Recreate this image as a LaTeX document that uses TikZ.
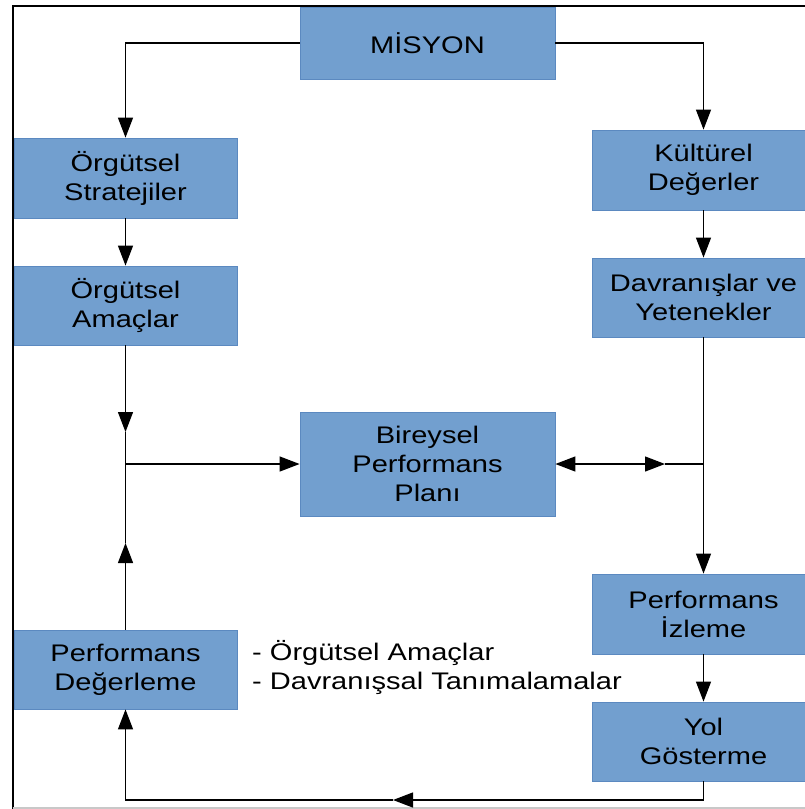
\documentclass[tikz,border=0pt]{standalone}
\usepackage{fontspec}
\setmainfont{Liberation Sans}[FakeStretch=1.21]
\usetikzlibrary{arrows.meta}
\definecolor{boxfill}{HTML}{729FCF}
\definecolor{boxline}{HTML}{5B89C0}
\definecolor{framegray}{HTML}{C8C8C8}
\begin{document}
\begin{tikzpicture}[x=1pt,y=-1pt,
  box/.style={draw=boxline, line width=0.8pt, fill=boxfill, inner sep=0pt,
    align=center, font=\fontsize{24}{29}\selectfont, text=black},
  lw/.style={minimum width=223pt, minimum height=80pt},
  cw/.style={minimum width=255pt},
  conn/.style={line width=1.3pt, draw=black},
  arr/.style={conn, -{Triangle[length=20pt,width=15pt]}},
  note/.style={font=\fontsize{24}{29}\selectfont, align=left, inner sep=0pt}
]
\useasboundingbox (0,0) rectangle (805,809);
\clip (0,0) rectangle (805,809);
% frame
\draw[line width=2pt, black] (12.5,809) -- (12.5,6) -- (810,6);
\draw[line width=1.2pt, framegray] (12.5,808) -- (810,808);
% boxes
\node[box, cw, minimum height=72pt] (mis) at (427.5,43) {MİSYON};
\node[box, lw] (strat) at (125.5,178) {Örgütsel\\Stratejiler};
\node[box, lw, minimum height=79pt] (amac) at (125.5,305.5) {Örgütsel\\Amaçlar};
\node[box, lw] (kult) at (703.5,170) {Kültürel\\Değerler};
\node[box, lw, minimum height=79pt] (dav) at (703.5,297.5) {Davranışlar ve\\Yetenekler};
\node[box, cw, minimum height=104pt] (bir) at (427.5,464) {Bireysel\\Performans\\Planı};
\node[box, lw] (izl) at (703.5,614) {Performans\\İzleme};
\node[box, lw, minimum height=79pt] (yol) at (703.5,741.5) {Yol\\Gösterme};
\node[box, lw, minimum height=79pt] (deg) at (125.5,669.5) {Performans\\Değerleme};
\node[note, anchor=west] (txt) at (252,667) {- Örgütsel Amaçlar\\- Davranışsal Tanımalamalar};
% coordinates
\coordinate (ja) at (125.5,432);
\coordinate (jl) at (125.5,464);
\coordinate (jb) at (125.5,543);
\coordinate (jr) at (703.5,464);
\coordinate (mr) at (665,464);
\coordinate (b2) at (393,800);
% connectors
\draw[arr] (mis.west) -| (strat.north);
\draw[arr] (mis.east) -| (kult.north);
\draw[arr] (strat) -- (amac);
\draw[arr] (kult) -- (dav);
\draw[arr] (amac.south) -- (ja);
\draw[conn] (ja) -- (jb);
\draw[arr] (deg.north) -- (jb);
\draw[arr] (jl) -- (bir.west);
\draw[arr] (dav.south) -- (izl.north);
\draw[conn, {Triangle[length=20pt,width=15pt]}-{Triangle[length=20pt,width=15pt]}] (bir.east) -- (mr);
\draw[conn] (mr) -- (jr);
\draw[arr] (izl) -- (yol);
\draw[arr] (yol.south) |- (b2);
\draw[arr] (b2) -| (deg.south);
\end{tikzpicture}
\end{document}
